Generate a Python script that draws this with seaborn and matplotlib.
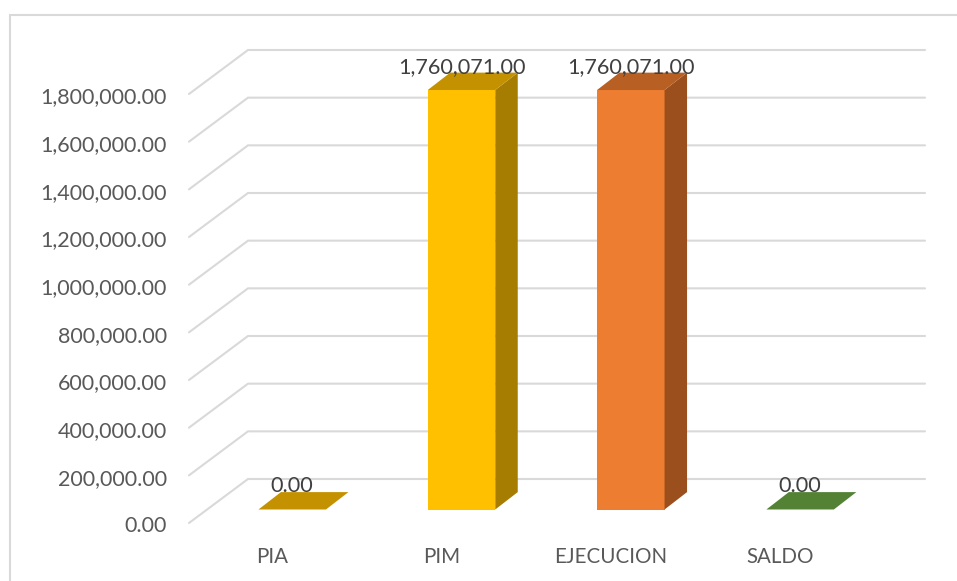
import matplotlib
matplotlib.use("Agg")
import matplotlib.pyplot as plt
from matplotlib.patches import Rectangle
import seaborn as sns

categories = ["PIA", "PIM", "EJECUCION", "SALDO"]
values = [0.0, 1760071.0, 1760071.0, 0.0]
axis_ticks = [0, 200000, 400000, 600000, 800000, 1000000, 1200000, 1400000, 1600000, 1800000]
front_colors = ["#FFC000", "#FFC000", "#ED7D31", "#70AD47"]
side_colors = ["#A67D00", "#A67D00", "#9A4F1C", "#4E7330"]
top_colors = ["#C49200", "#C49200", "#B85F23", "#548235"]

W, H = 957, 581
sns.set_theme(style="white")
plt.rcParams["font.family"] = ["Lato", "DejaVu Sans"]

fig = plt.figure(figsize=(W / 100, H / 100), dpi=100)
fig.patch.set_facecolor("white")
frame_top = 1 - 14.5 / H
fig.add_artist(Rectangle((9.5 / W, -0.01), 2, frame_top + 0.01, transform=fig.transFigure,
                         fill=False, edgecolor="#D9D9D9", linewidth=1.5))

# axes box in pixels
L, R, T, B = 189, 925, 50, 530
ax = fig.add_axes([L / W, 1 - B / H, (R - L) / W, (B - T) / H])
ax.set_facecolor("none")

px_per_cat = 169.3
px_per_val = 429 / 1800000
center0 = 292.2
base_y = 509.5

bar_w = 67.5 / px_per_cat
depth_x = 22.5 / px_per_cat
depth_y = 17.4 / px_per_val
wall_x = 59 / px_per_cat
wall_y = (base_y - 479) / px_per_val
floor_y = (base_y - 523) / px_per_val
label_shift = 20 / px_per_cat
tick_nudge = 1.5 / px_per_val

sns.barplot(x=categories, y=values, hue=categories, palette=front_colors, dodge=False,
            width=bar_w, legend=False, ax=ax, zorder=3, linewidth=0, saturation=1)

x0 = (L - center0) / px_per_cat
x1 = (R - center0) / px_per_cat
y0 = (base_y - B) / px_per_val
y1 = (base_y - T) / px_per_val

# back wall and side wall gridlines
for t in axis_ticks:
    ax.plot([x0, x0 + wall_x, x1], [t + floor_y, t + wall_y, t + wall_y],
            color="#D9D9D9", lw=1.5, clip_on=False, zorder=1, solid_joinstyle="miter")

# 3D faces and data labels
for i, v in enumerate(values):
    l, r = i - bar_w / 2, i + bar_w / 2
    if v > 0:
        ax.fill([r, r + depth_x, r + depth_x, r], [0, depth_y, v + depth_y, v],
                color=side_colors[i], lw=0, zorder=3)
    ax.fill([l, r, r + depth_x, l + depth_x], [v, v, v + depth_y, v + depth_y],
            color=top_colors[i], lw=0, zorder=4)
    ax.text(i, v + depth_y, f"{v:,.2f}", ha="center", va="baseline",
            fontsize=15.6, color="#404040", zorder=5)

ax.set_yticks([t + floor_y - tick_nudge for t in axis_ticks])
ax.set_yticklabels([f"{t:,.2f}" for t in axis_ticks])
ax.set_xticks([i - label_shift for i in range(len(categories))])
ax.set_xticklabels(categories)
ax.set_xlim(x0, x1)
ax.set_ylim(y0, y1)
ax.tick_params(axis="y", length=0, pad=16, labelsize=15.5, labelcolor="#595959")
ax.tick_params(axis="x", length=0, pad=12.5, labelsize=14.8, labelcolor="#595959")
ax.set_xlabel("")
ax.set_ylabel("")
for s in ax.spines.values():
    s.set_visible(False)

fig.savefig("out.png", dpi=100)
